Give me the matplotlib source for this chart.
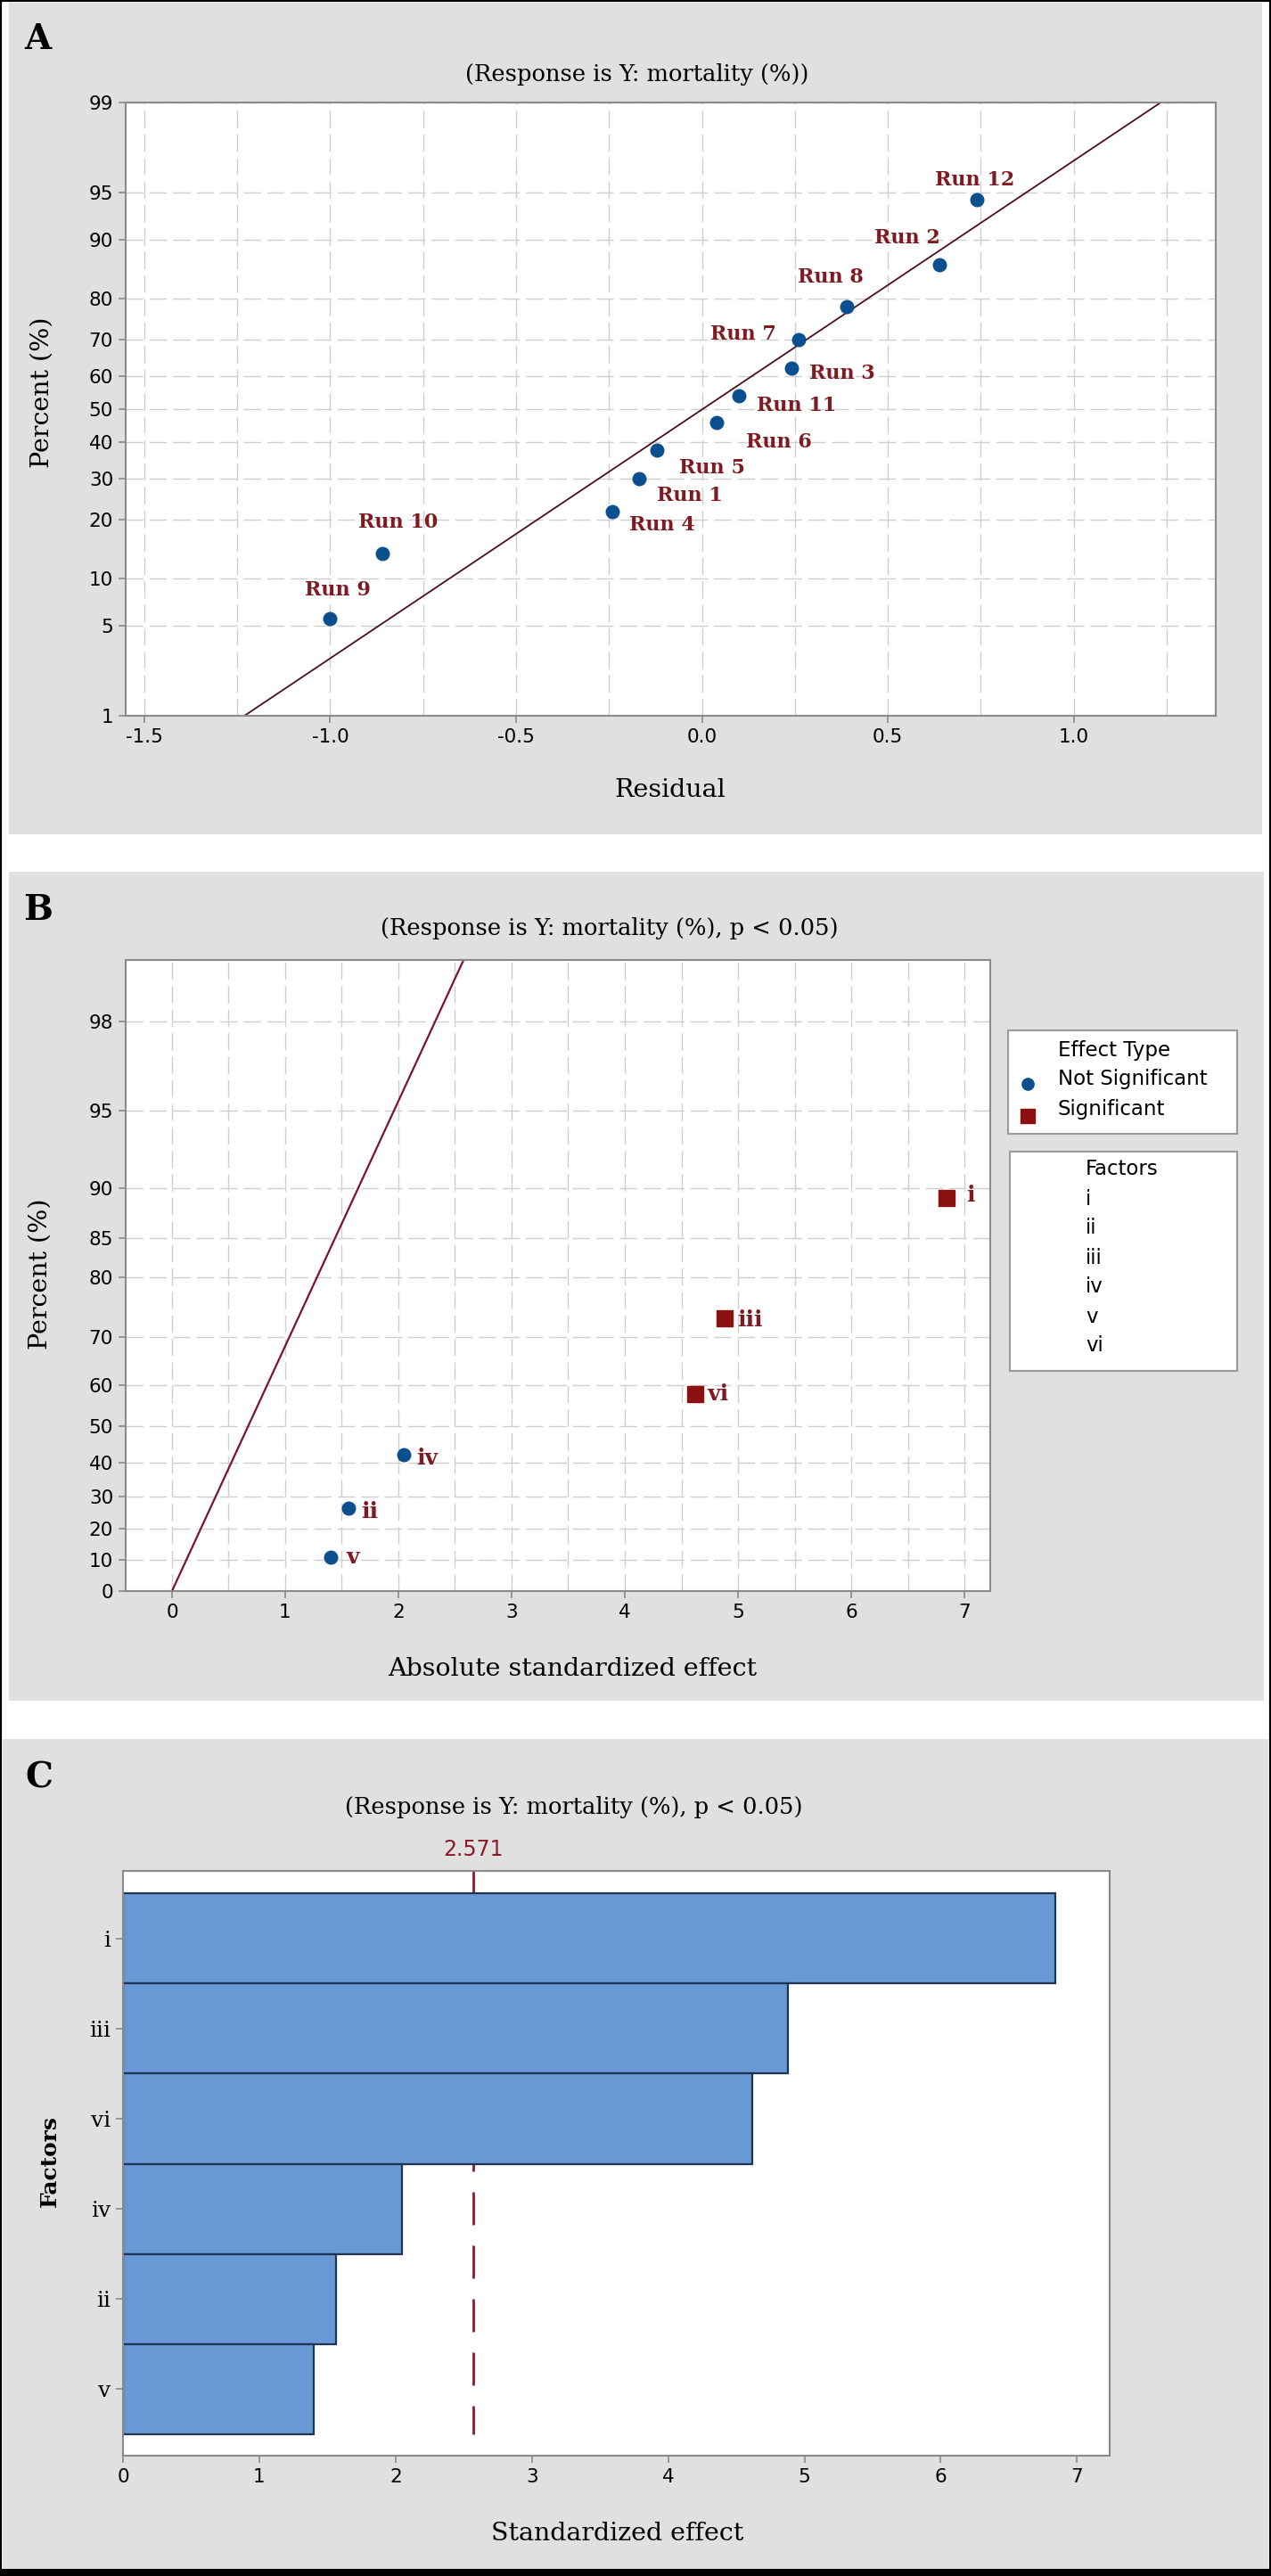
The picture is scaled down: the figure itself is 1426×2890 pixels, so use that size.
import numpy as np
import matplotlib
matplotlib.use('Agg')
import matplotlib.pyplot as plt
from matplotlib.patches import Rectangle
from matplotlib.ticker import MultipleLocator
from statistics import NormalDist

W, H = 1426, 2890

# ---- panel A: normal probability plot of residuals ----
runs = ['Run 9', 'Run 10', 'Run 4', 'Run 1', 'Run 5', 'Run 6',
        'Run 11', 'Run 3', 'Run 7', 'Run 8', 'Run 2', 'Run 12']
residuals = [-1.00, -0.86, -0.24, -0.17, -0.12, 0.04,
             0.10, 0.24, 0.26, 0.39, 0.64, 0.74]
percent_a = [5.6, 13.7, 21.8, 29.8, 37.9, 46.0,
             54.0, 62.1, 70.2, 78.2, 86.3, 94.4]
a_xticks = [-1.5, -1.0, -0.5, 0.0, 0.5, 1.0]
a_xlabels = ['-1.5', '-1.0', '-0.5', '0.0', '0.5', '1.0']
a_yticks = [1, 5, 10, 20, 30, 40, 50, 60, 70, 80, 90, 95, 99]

# ---- panel B: half normal plot of standardized effects ----
factors = ['i', 'ii', 'iii', 'iv', 'v', 'vi']
effects = [6.84, 1.56, 4.88, 2.05, 1.40, 4.62]
percent_b = [89.1, 26.6, 73.4, 42.2, 10.9, 57.8]
significant = [True, False, True, False, False, True]
b_xticks = [0, 1, 2, 3, 4, 5, 6, 7]
b_yticks = [0, 10, 20, 30, 40, 50, 60, 70, 80, 85, 90, 95, 98]
effect_sigma = 1.0

# ---- panel C: pareto chart ----
t_crit = 2.571
c_xticks = [0, 1, 2, 3, 4, 5, 6, 7]

# label offsets in pixels (dx, dy, ha)
run_label_pos = {
    'Run 12': (-3, 22, 'center'), 'Run 2': (0, 30, 'right'),
    'Run 8': (19, 33, 'right'), 'Run 7': (-25, 6, 'right'),
    'Run 3': (20, -6, 'left'), 'Run 11': (20, -11, 'left'),
    'Run 6': (33, -22, 'left'), 'Run 5': (25, -20, 'left'),
    'Run 1': (20, -19, 'left'), 'Run 4': (19, -15, 'left'),
    'Run 10': (18, 35, 'center'), 'Run 9': (9, 32, 'center'),
}
factor_label_pos = {'i': (22, 3), 'ii': (14, -4), 'iii': (14, -2),
                    'iv': (14, -4), 'v': (18, 0), 'vi': (14, 0)}

BLUE = '#0B4F8E'
DRED = '#8B1010'
LRED = '#7E1A22'
GRID = '#cfcfcf'
SPINE = '#8a8a8a'
PANEL = '#e0e0e0'
SERIF = 'DejaVu Serif'
SANS = 'DejaVu Sans'

nd = NormalDist()


def _vec(f):
    return np.vectorize(f, otypes=[float])


_z = _vec(lambda p: nd.inv_cdf(p))
_c = _vec(lambda z: nd.cdf(z))


def norm_fwd(p):
    p = np.clip(np.asarray(p, float), 1e-4, 100 - 1e-4)
    return _z(p / 100.0)


def norm_inv(z):
    return _c(np.asarray(z, float)) * 100.0


def half_fwd(p):
    p = np.clip(np.asarray(p, float), 0.0, 100 - 1e-4)
    return _z(0.5 + p / 200.0)


def half_inv(z):
    return (2 * _c(np.asarray(z, float)) - 1) * 100.0


def rect(l, t, r, b):
    return [l / W, 1 - b / H, (r - l) / W, (b - t) / H]


def style_axes(ax):
    for s in ax.spines.values():
        s.set_color(SPINE)
        s.set_linewidth(1.5)
    ax.tick_params(direction='out', length=6, width=1.2, color=SPINE,
                   labelsize=15.5, labelcolor='black', pad=4)
    ax.tick_params(which='minor', length=0)
    for t in ax.get_xticklabels() + ax.get_yticklabels():
        t.set_fontfamily(SANS)


fig = plt.figure(figsize=(W / 100, H / 100), dpi=100)

bg = fig.add_axes([0, 0, 1, 1], zorder=-1)
bg.set_xlim(0, W)
bg.set_ylim(H, 0)
bg.axis('off')
bg.add_patch(Rectangle((10, 3), 1406, 933, color=PANEL, lw=0))
bg.add_patch(Rectangle((10, 978), 1408, 930, color=PANEL, lw=0))
bg.add_patch(Rectangle((3, 1951), 1420, 931, color=PANEL, lw=0))
bg.add_patch(Rectangle((0, 2882), W, 8, color='black', lw=0))
bg.add_patch(Rectangle((0, 0), W, H, fill=False, edgecolor='black', lw=3))

# ---------------- panel A ----------------
ax_a = fig.add_axes(rect(141, 115, 1364, 803))
ax_a.set_yscale('function', functions=(norm_fwd, norm_inv))
ax_a.set_xlim(-1.55, 1.382)
ax_a.set_ylim(1, 99)
ax_a.set_xticks(a_xticks, labels=a_xlabels)
ax_a.set_yticks(a_yticks, labels=[str(v) for v in a_yticks])
ax_a.xaxis.set_minor_locator(MultipleLocator(0.25))
ax_a.grid(True, axis='x', which='both', color=GRID, lw=1, ls=(0, (14, 5)))
ax_a.grid(True, axis='y', which='major', color=GRID, lw=1, ls=(0, (14, 5)))
ax_a.set_axisbelow(True)

mu = np.mean(residuals)
sd = np.std(residuals, ddof=1)
line_p = np.array([1.0, 99.0])
ax_a.plot(mu + sd * norm_fwd(line_p), line_p, color='#4a1018', lw=1.3, zorder=2)
ax_a.scatter(residuals, percent_a, s=110, color=BLUE, zorder=3)
for name, x, y in zip(runs, residuals, percent_a):
    dx, dy, ha = run_label_pos[name]
    ax_a.annotate(name, (x, y), xytext=(dx, dy), textcoords='offset pixels',
                  ha=ha, va='center', fontsize=16, fontweight='bold',
                  family=SERIF, color=LRED, zorder=4)
style_axes(ax_a)

bg.text(42, 44, 'A', fontsize=28, fontweight='bold', family=SERIF, ha='center', va='center')
bg.text(715, 84, '(Response is Y: mortality (%))', fontsize=18.5, family=SERIF,
        ha='center', va='center')
bg.text(752, 886, 'Residual', fontsize=20.5, family=SERIF, ha='center', va='center')
bg.text(47, 440, 'Percent (%)', fontsize=20.5, family=SERIF, ha='center', va='center',
        rotation=90)

# ---------------- panel B ----------------
ax_b = fig.add_axes(rect(141, 1077, 1111, 1785))
ax_b.set_yscale('function', functions=(half_fwd, half_inv))
ax_b.set_xlim(-0.409, 7.228)
ax_b.set_ylim(0, 99)
ax_b.set_xticks(b_xticks, labels=[str(v) for v in b_xticks])
ax_b.set_yticks(b_yticks, labels=[str(v) for v in b_yticks])
ax_b.xaxis.set_minor_locator(MultipleLocator(0.5))
ax_b.grid(True, axis='x', which='both', color=GRID, lw=1, ls=(0, (14, 5)))
ax_b.grid(True, axis='y', which='major', color=GRID, lw=1, ls=(0, (14, 5)))
ax_b.set_axisbelow(True)

line_pb = np.array([0.0, 99.0])
ax_b.plot(effect_sigma * half_fwd(line_pb), line_pb, color='#7a1430', lw=1.6, zorder=2)
eff = np.array(effects)
pb = np.array(percent_b)
sig = np.array(significant)
ax_b.scatter(eff[~sig], pb[~sig], s=110, marker='o', color=BLUE, zorder=3)
ax_b.scatter(eff[sig], pb[sig], s=170, marker='s', color=DRED, zorder=3)
for name, x, y in zip(factors, effects, percent_b):
    dx, dy = factor_label_pos[name]
    ax_b.annotate(name, (x, y), xytext=(dx, dy), textcoords='offset pixels',
                  ha='left', va='center', fontsize=18, fontweight='bold',
                  family=SERIF, color=LRED, zorder=4)
style_axes(ax_b)

bg.text(43, 1021, 'B', fontsize=28, fontweight='bold', family=SERIF, ha='center', va='center')
bg.text(684, 1041, '(Response is Y: mortality (%), p < 0.05)', fontsize=18.5,
        family=SERIF, ha='center', va='center')
bg.text(642, 1872, 'Absolute standardized effect', fontsize=20.5, family=SERIF,
        ha='center', va='center')
bg.text(45, 1429, 'Percent (%)', fontsize=20.5, family=SERIF, ha='center', va='center',
        rotation=90)

# legend boxes
bg.add_patch(Rectangle((1131, 1156), 257, 116, facecolor='white', edgecolor='#9a9a9a', lw=1.5))
bg.add_patch(Rectangle((1133, 1292), 255, 246, facecolor='white', edgecolor='#9a9a9a', lw=1.5))
bg.text(1187, 1178, 'Effect Type', fontsize=16.5, family=SANS, ha='left', va='center')
bg.text(1187, 1211, 'Not Significant', fontsize=16.5, family=SANS, ha='left', va='center')
bg.text(1187, 1245, 'Significant', fontsize=16.5, family=SANS, ha='left', va='center')
bg.scatter([1153], [1216], s=90, marker='o', color=BLUE)
bg.scatter([1153], [1252], s=130, marker='s', color=DRED)
bg.text(1218, 1312, 'Factors', fontsize=16.5, family=SANS, ha='left', va='center')
for k, name in enumerate(factors):
    bg.text(1218, 1345 + 33 * k, name, fontsize=16.5, family=SANS, ha='left', va='center')

# ---------------- panel C ----------------
ax_c = fig.add_axes(rect(138, 2099, 1245, 2755))
order = np.argsort(effects)[::-1]
c_names = [factors[k] for k in order]
c_vals = [effects[k] for k in order]
ypos = np.arange(len(c_vals))
ax_c.barh(ypos, c_vals, height=1.0, color='#6899D4', edgecolor='#1F3556',
          lw=1.6, zorder=2)
ax_c.plot([t_crit, t_crit], [-0.75, len(c_vals) - 0.5], color='#8B1A2B', lw=2,
          ls=(0, (13.3, 8.3)), zorder=1)
ax_c.set_xlim(0, 7.24)
ax_c.set_ylim(len(c_vals) - 0.26, -0.75)
ax_c.set_xticks(c_xticks, labels=[str(v) for v in c_xticks])
ax_c.set_yticks(ypos, labels=c_names)
style_axes(ax_c)
for t in ax_c.get_yticklabels():
    t.set_fontfamily(SERIF)
    t.set_fontsize(18)
ax_c.text(t_crit, 1.037, f'{t_crit:.3f}', transform=ax_c.get_xaxis_transform(),
          ha='center', va='center', fontsize=17, family=SANS, color='#8B1A2B')

bg.text(44, 1995, 'C', fontsize=28, fontweight='bold', family=SERIF, ha='center', va='center')
bg.text(644, 2027, '(Response is Y: mortality (%), p < 0.05)', fontsize=18.5,
        family=SERIF, ha='center', va='center')
bg.text(693, 2843, 'Standardized effect', fontsize=20.5, family=SERIF,
        ha='center', va='center')
bg.text(56, 2425, 'Factors', fontsize=18, fontweight='bold', family=SERIF,
        ha='center', va='center', rotation=90)

fig.savefig('out.png', dpi=100)
